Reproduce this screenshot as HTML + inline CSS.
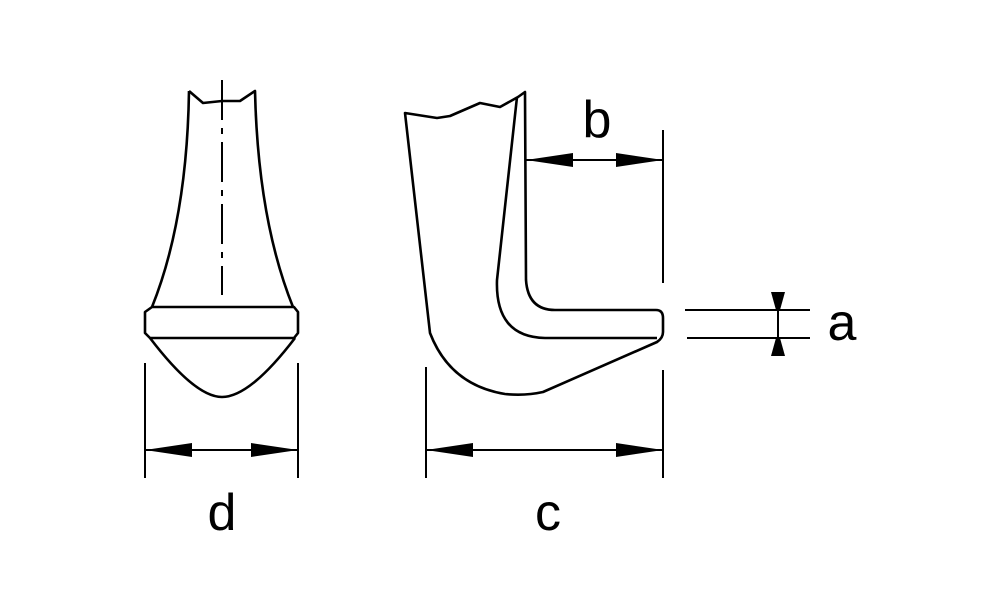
<!DOCTYPE html>
<html><head><style>
body{margin:0;background:#fff;}
svg{display:block;}
text{font-family:"Liberation Sans",sans-serif;fill:#000;}
</style></head><body>
<svg width="1000" height="611" viewBox="0 0 1000 611" xmlns="http://www.w3.org/2000/svg">
<g fill="none" stroke="#000" stroke-width="2.6" stroke-linejoin="round">
<!-- left figure -->
<path d="M189,91 L203,103 L222,101 L240,101 L255,91 Q258,220 293,307"/>
<path d="M189,91 Q187,220 152,307"/>
<line x1="222" y1="80" x2="222" y2="295" stroke-width="2" stroke-dasharray="40,8,6,8"/>
<path d="M152,307 L294,307 L298,312 L298,333 L294,338 L150,338 L145,333 L145,312 Z"/>
<path d="M150,338 Q195,397 222,397 Q250,397 295,338"/>
<line x1="145" y1="363" x2="145" y2="478" stroke-width="2"/>
<line x1="298" y1="363" x2="298" y2="478" stroke-width="2"/>
<line x1="145" y1="450" x2="298" y2="450" stroke-width="2"/>
<!-- right figure -->
<path d="M405,113 L437,118 L450,116 L480,103 L500,107 L518,97 L525,92 L526,280 Q528,310 555,310 L656,310 Q663,310 663,318 L663,332 Q663,338 657,342 L543,392 Q525,396 505,394 Q450,385 430,333 Z"/>
<path d="M517,97 L497,280 Q495,337 545,338 L657,338"/>
<line x1="663" y1="130" x2="663" y2="283" stroke-width="2"/>
<line x1="663" y1="370" x2="663" y2="478" stroke-width="2"/>
<line x1="426" y1="367" x2="426" y2="478" stroke-width="2"/>
<line x1="426" y1="450" x2="663" y2="450" stroke-width="2"/>
<line x1="526" y1="160" x2="663" y2="160" stroke-width="2"/>
<line x1="685" y1="310" x2="810" y2="310" stroke-width="2"/>
<line x1="687" y1="338" x2="810" y2="338" stroke-width="2"/>
<line x1="778" y1="292" x2="778" y2="356" stroke-width="2"/>
</g>
<g fill="#000">
<path d="M145,450 L192,443 L192,457 Z"/>
<path d="M298,450 L251,443 L251,457 Z"/>
<path d="M426,450 L473,443 L473,457 Z"/>
<path d="M663,450 L616,443 L616,457 Z"/>
<path d="M526,160 L573,153 L573,167 Z"/>
<path d="M663,160 L616,153 L616,167 Z"/>
<path d="M771,292 L785,292 L780,310 L776,310 Z"/>
<path d="M771,356 L785,356 L780,338 L776,338 Z"/>
</g>
<text x="222" y="530" font-size="52" text-anchor="middle">d</text>
<text x="548" y="530" font-size="52" text-anchor="middle">c</text>
<text x="597" y="137" font-size="52" text-anchor="middle">b</text>
<text x="842" y="340" font-size="52" text-anchor="middle">a</text>
</svg>
</body></html>
